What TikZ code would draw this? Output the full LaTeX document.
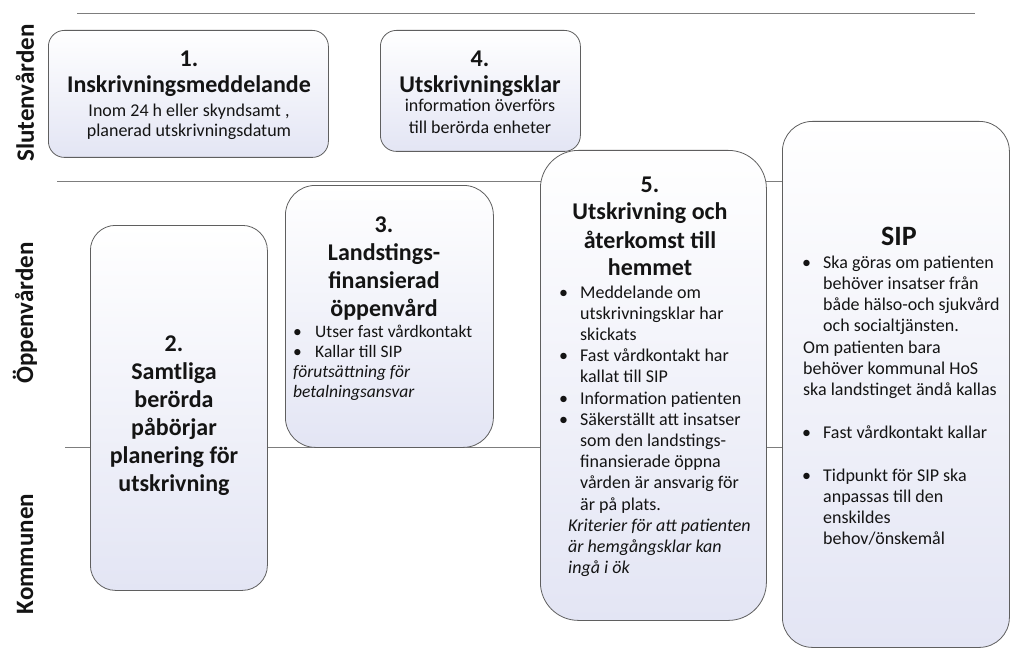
\documentclass[tikz,border=0pt]{standalone}
\usepackage{fontspec}
\setmainfont{Carlito}
\usetikzlibrary{backgrounds}
\definecolor{boxfill}{RGB}{227,229,244}
\definecolor{boxline}{RGB}{95,95,95}
\definecolor{lanecol}{RGB}{125,125,125}
\definecolor{txt}{RGB}{20,20,20}
\newlength\bw
\newcommand\ctab[1]{\begin{tabular}[t]{@{}c@{}}#1\end{tabular}}
\newcommand\btab[1]{\begin{tabular}[t]{@{}l@{}l@{}}#1\end{tabular}}
\newcommand\bu{\makebox[\bw][l]{\textbullet}}
\tikzset{
 box/.style={draw=boxline, line width=0.8pt, top color=white, bottom color=boxfill, inner sep=0pt, anchor=north west},
 laneline/.style={draw=lanecol, line width=0.8pt},
 lanelbl/.style={font=\fontsize{25}{28}\selectfont\bfseries, rotate=90, text=txt, inner sep=0pt},
 ttl/.style={font=\fontsize{24}{28}\selectfont\bfseries, inner sep=0pt, anchor=base, text=txt},
 sub/.style={font=\fontsize{18}{20}\selectfont, inner sep=0pt, anchor=base, text=txt},
 body/.style={font=\fontsize{18}{21.2}\selectfont, inner sep=0pt, anchor=base west, text=txt},
}
\begin{document}
\begin{tikzpicture}[x=1pt,y=-1pt]
\begin{pgfonlayer}{background}
\fill[white] (0,0) rectangle (1012,650);
\end{pgfonlayer}
\useasboundingbox (0,0) rectangle (1012,650);
% lane labels
\node[lanelbl] (lsl) at (25,93) {Slutenvården};
\node[lanelbl] (lop) at (25,313) {Öppenvården};
\node[lanelbl] (lko) at (25,554) {Kommunen};
% boxes
\node[box, rounded corners=16pt, minimum width=280pt, minimum height=127pt] (b1) at (48,30) {};
\node[box, rounded corners=16pt, minimum width=200pt, minimum height=121pt] (b4) at (380,30) {};
\node[box, rounded corners=25pt, minimum width=177pt, minimum height=365pt] (b2) at (90,225) {};
\node[box, rounded corners=30pt, minimum width=208pt, minimum height=262pt] (b3) at (285,185) {};
\node[box, rounded corners=38pt, minimum width=226pt, minimum height=470pt] (b5) at (540,150) {};
\node[box, rounded corners=30pt, minimum width=227pt, minimum height=526pt] (sip) at (782,121) {};
% lane lines
\coordinate (l1a) at (77,13);
\coordinate (l1b) at (975,13);
\coordinate (l2a) at (57,181);
\coordinate (l3a) at (65,447);
\begin{pgfonlayer}{background}
\draw[laneline] (l1a) -- (l1b);
\draw[laneline] (l2a) -- (sip.west |- l2a);
\draw[laneline] (l3a) -- (sip.west |- l3a);
\end{pgfonlayer}
% box 1
\node[ttl, font=\fontsize{24}{26}\selectfont\bfseries] (t1) at (189,67) {\ctab{1.\\Inskrivningsmeddelande}};
\node[sub] (s1) at (189,117) {\ctab{Inom 24 h eller skyndsamt ,\\planerad utskrivningsdatum}};
% box 4
\node[ttl, font=\fontsize{24}{26}\selectfont\bfseries] (t4) at (480,67) {\ctab{4.\\Utskrivningsklar}};
\node[sub, font=\fontsize{18}{22}\selectfont] (s4) at (480,112) {\ctab{information överförs\\till berörda enheter}};
% box 2
\node[ttl] (t2) at (174,351) {\ctab{2.\\Samtliga\\berörda\\påbörjar\\planering för\\utskrivning}};
% box 3
\node[ttl] (t3) at (384,232) {\ctab{3.\\Landstings-\\finansierad\\öppenvård}};
\node[body, font=\fontsize{17.5}{20}\selectfont] (x3) at (293,337) {\setlength\bw{22pt}\btab{%
\bu & Utser fast vårdkontakt\\
\bu & Kallar till SIP\\
\multicolumn{2}{@{}l@{}}{\itshape förutsättning för}\\
\multicolumn{2}{@{}l@{}}{\itshape betalningsansvar}}};
% box 5
\node[ttl] (t5) at (650,192) {\ctab{5.\\Utskrivning och\\återkomst till\\hemmet}};
\node[body] (x5) at (559,298) {\setlength\bw{21pt}\btab{%
\bu & Meddelande om\\
 & utskrivningsklar har\\
 & skickats\\
\bu & Fast vårdkontakt har\\
 & kallat till SIP\\
\bu & Information patienten\\
\bu & Säkerställt att insatser\\
 & som den landstings-\\
 & finansierade öppna\\
 & vården är ansvarig för\\
 & är på plats.\\
\multicolumn{2}{@{}l@{}}{\hspace{9pt}\itshape Kriterier för att patienten}\\
\multicolumn{2}{@{}l@{}}{\hspace{9pt}\itshape är hemgångsklar kan}\\
\multicolumn{2}{@{}l@{}}{\hspace{9pt}\itshape ingå i ök}}};
% SIP
\node[ttl, font=\fontsize{28}{32}\selectfont\bfseries] (tsip) at (899,245) {SIP};
\node[body, font=\fontsize{18}{21.3}\selectfont] (xsip) at (802,268) {\setlength\bw{21pt}\btab{%
\bu & Ska göras om patienten\\
 & behöver insatser från\\
 & både hälso-och sjukvård\\
 & och socialtjänsten.\\
\multicolumn{2}{@{}l@{}}{\hspace{1pt}Om patienten bara}\\
\multicolumn{2}{@{}l@{}}{\hspace{1pt}behöver kommunal HoS}\\
\multicolumn{2}{@{}l@{}}{\hspace{1pt}ska landstinget ändå kallas}\\
 & \\
\bu & Fast vårdkontakt kallar\\
 & \\
\bu & Tidpunkt för SIP ska\\
 & anpassas till den\\
 & enskildes\\
 & behov/önskemål}};
\end{tikzpicture}
\end{document}
